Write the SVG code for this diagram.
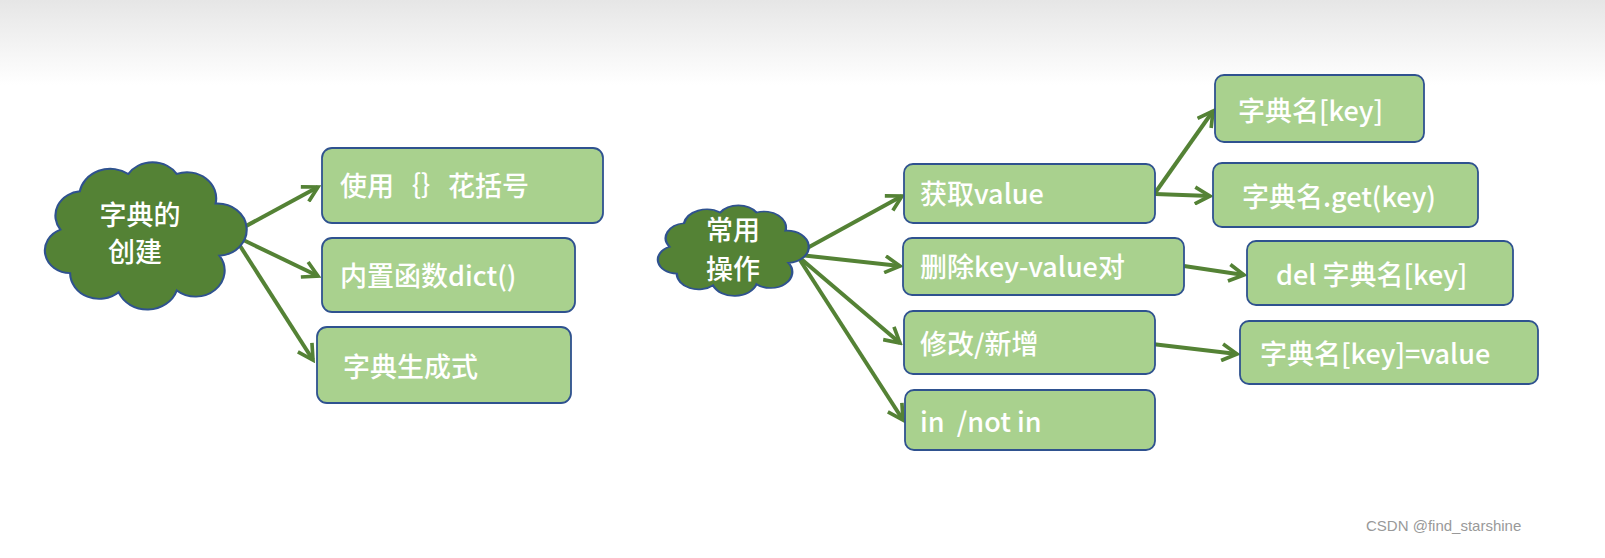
<svg xmlns="http://www.w3.org/2000/svg" width="1605" height="558" viewBox="0 0 1605 558">
<style>
.box{fill:#a9d18e;stroke:#2f528f;stroke-width:1.8}
.t{fill:#fff;font-family:"Noto Sans CJK SC","Liberation Sans",sans-serif;font-size:27px;font-weight:500}
.cloud{fill:#548235;stroke:#2f528f;stroke-width:1.1}
.c line{stroke:#548235;stroke-width:4;marker-end:url(#ah)}
</style>
<defs>
<linearGradient id="bg" x1="0" y1="0" x2="0" y2="1"><stop offset="0" stop-color="#e6e6e6"/><stop offset="1" stop-color="#fff"/></linearGradient>
<marker id="ah" viewBox="0 0 12 12" refX="10" refY="6" markerWidth="5" markerHeight="5" orient="auto" markerUnits="strokeWidth"><path d="M1 1 L10 6 L1 11" fill="none" stroke="#548235" stroke-width="2.2"/></marker>
<path id="cl" d="M 10 40 A 14 14 0 0 1 20 18 A 16 16 0 0 1 45 8 A 15 15 0 0 1 70 8 A 15 15 0 0 1 90 25 A 14 14 0 0 1 92 55 A 15 15 0 0 1 70 75 A 16 16 0 0 1 40 76 A 15 15 0 0 1 15 65 A 13 13 0 0 1 10 40 Z"/>
</defs>
<rect x="0" y="0" width="1605" height="85" fill="url(#bg)"/>
<g class="c">
<line x1="235" y1="232" x2="318" y2="187"/>
<line x1="235" y1="236" x2="318" y2="276"/>
<line x1="235" y1="238" x2="313" y2="360"/>
<line x1="800" y1="252" x2="902" y2="196"/>
<line x1="800" y1="255" x2="900" y2="266"/>
<line x1="800" y1="258" x2="900" y2="343"/>
<line x1="800" y1="260" x2="903" y2="420"/>
<line x1="1155" y1="193" x2="1213" y2="111"/>
<line x1="1155" y1="194" x2="1210" y2="196"/>
<line x1="1184" y1="266" x2="1244" y2="275"/>
<line x1="1152" y1="344" x2="1237" y2="354"/>
</g>
<g id="n1"><use href="#cl" class="cloud" transform="translate(41,160) scale(1.94,1.74)"/><text class="t" x="140" y="225" text-anchor="middle">字典的</text><text class="t" x="135" y="262" text-anchor="middle">创建</text></g>
<g id="n2"><use href="#cl" class="cloud" transform="translate(655,204) scale(1.45,1.07)" style="stroke-width:1.6"/><text class="t" x="733" y="240" text-anchor="middle" font-size="24">常用</text><text class="t" x="733" y="279" text-anchor="middle">操作</text></g>
<g id="b1"><rect class="box" x="322" y="148" width="281" height="75" rx="10"/><text class="t" x="340" y="196">使用｛｝花括号</text></g>
<g id="b2"><rect class="box" x="322" y="238" width="253" height="74" rx="10"/><text class="t" x="340" y="286">内置函数dict()</text></g>
<g id="b3"><rect class="box" x="317" y="327" width="254" height="76" rx="10"/><text class="t" x="343" y="377">字典生成式</text></g>
<g id="b4"><rect class="box" x="904" y="164" width="251" height="59" rx="9"/><text class="t" x="920" y="204">获取value</text></g>
<g id="b5"><rect class="box" x="903" y="238" width="281" height="57" rx="9"/><text class="t" x="920" y="277">删除key-value对</text></g>
<g id="b6"><rect class="box" x="904" y="311" width="251" height="63" rx="9"/><text class="t" x="920" y="354">修改/新增</text></g>
<g id="b7"><rect class="box" x="905" y="390" width="250" height="60" rx="9"/><text class="t" x="920" y="432" xml:space="preserve">in  /not in</text></g>
<g id="b8"><rect class="box" x="1215" y="75" width="209" height="67" rx="9"/><text class="t" x="1238" y="121">字典名[key]</text></g>
<g id="b9"><rect class="box" x="1213" y="163" width="265" height="64" rx="9"/><text class="t" x="1242" y="207">字典名.get(key)</text></g>
<g id="b10"><rect class="box" x="1247" y="241" width="266" height="64" rx="9"/><text class="t" x="1276" y="285">del 字典名[key]</text></g>
<g id="b11"><rect class="box" x="1240" y="321" width="298" height="63" rx="9"/><text class="t" x="1260" y="364">字典名[key]=value</text></g>
<text x="1366" y="531" font-family="Liberation Sans,sans-serif" font-size="15" fill="#999">CSDN @find_starshine</text>
</svg>
